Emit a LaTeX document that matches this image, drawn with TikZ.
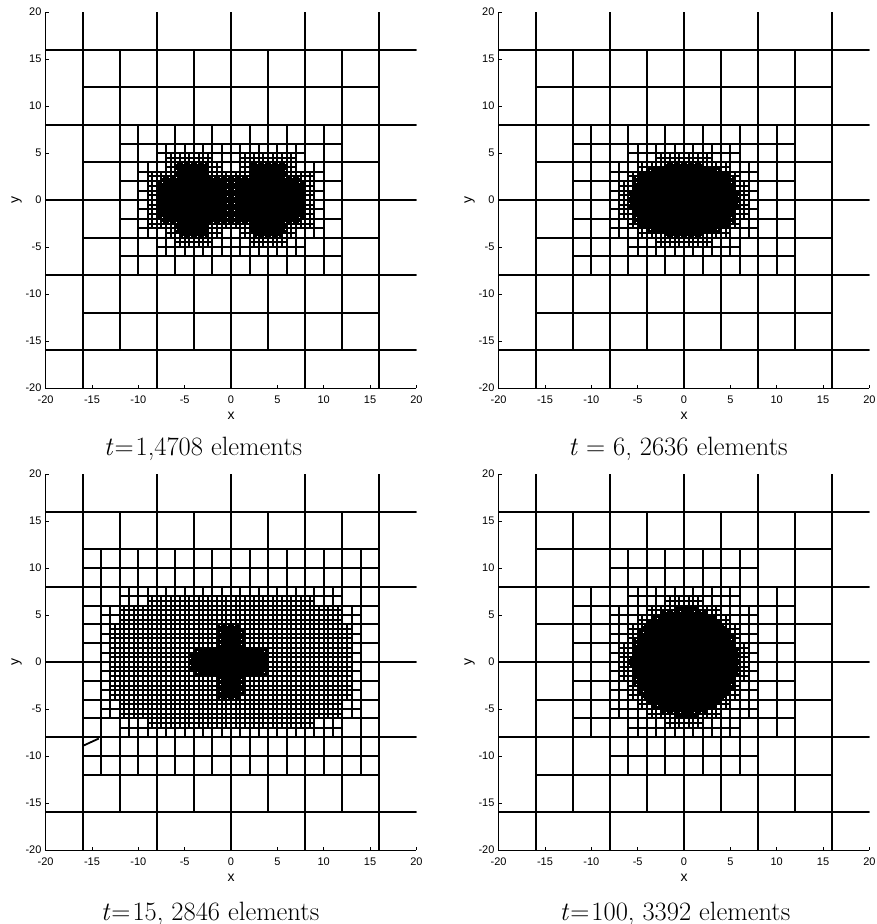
\documentclass[tikz,border=0pt]{standalone}
\usepackage{fontspec}
\newfontfamily\axfont{Liberation Sans}
\newif\ifqref
\newif\ifqinner
\def\qgobble#1{}
\def\qdk{160}\def\qdo{500}
% rectangle snapped to whole points (1pt = 1px)
\def\qrect#1#2#3{%
  \edef\qXa{\the\numexpr 927*(#1)/100000\relax}%
  \edef\qXb{\the\numexpr 927*(#1+#3)/100000\relax}%
  \edef\qYa{\the\numexpr 940*(#2)/100000\relax}%
  \edef\qYb{\the\numexpr 940*(#2+#3)/100000\relax}%
  \pgfpathrectangle{\pgfqpoint{\qXa pt}{\qYa pt}}{\pgfqpoint{\the\numexpr\qXb-\qXa\relax pt}{\the\numexpr\qYb-\qYa\relax pt}}}
\def\qpow#1#2{%
  \edef\qtb{\the\numexpr#1*#1/1000\relax}%
  \ifcase#2\relax\or\edef\qv{#1}\or\edef\qv{\qtb}\or
    \edef\qv{\the\numexpr\qtb*#1/1000\relax}\or
    \edef\qv{\the\numexpr\qtb*\qtb/1000\relax}\or\or\or\or
    \edef\qtd{\the\numexpr\qtb*\qtb/1000\relax}\edef\qv{\the\numexpr\qtd*\qtd/1000\relax}%
  \fi}
% primitive: xc yc a b p s (milli-units)
\def\prim#1#2#3#4#5#6{%
  \ifqref\else
  \ifnum\qh>#6\relax
    \edef\qA{\the\numexpr#3+\qd\relax}%
    \edef\qB{\the\numexpr#4+\qd\relax}%
    \edef\qdx{\the\numexpr\qcx-(#1)\relax}%
    \ifnum\qdx<0 \edef\qdx{\expandafter\qgobble\qdx}\fi
    \edef\qdy{\the\numexpr\qcy-(#2)\relax}%
    \ifnum\qdy<0 \edef\qdy{\expandafter\qgobble\qdy}\fi
    \ifnum\qdx<\qA\relax\ifnum\qdy<\qB\relax
      \edef\qtx{\the\numexpr\qdx*1000/\qA\relax}%
      \edef\qty{\the\numexpr\qdy*1000/\qB\relax}%
      \qpow\qtx{#5}\let\qpx\qv
      \qpow\qty{#5}%
      \ifnum\numexpr\qpx+\qv\relax<1000 \qreftrue\fi
    \fi\fi
  \fi\fi}
\def\qcell#1#2#3{%
 \begingroup
  \edef\qx{#1}\edef\qy{#2}\edef\qh{#3}%
  \edef\qcx{\the\numexpr\qx+\qh/2\relax}%
  \edef\qcy{\the\numexpr\qy+\qh/2\relax}%
  \edef\qd{\the\numexpr\qdk*\qh/100-\qdo\relax}%
  \qreffalse
  \qprims
  \ifqref
    \ifnum\qh>250
      \edef\qhh{\the\numexpr\qh/2\relax}%
      \edef\qxm{\the\numexpr\qx+\qhh\relax}%
      \edef\qym{\the\numexpr\qy+\qhh\relax}%
      \edef\qnext{\noexpand\qcell{\qx}{\qy}{\qhh}\noexpand\qcell{\qxm}{\qy}{\qhh}\noexpand\qcell{\qx}{\qym}{\qhh}\noexpand\qcell{\qxm}{\qym}{\qhh}}%
      \qnext
    \else
      \qrect\qx\qy\qh\pgfusepath{fill,stroke}%
    \fi
  \else
    \qrect\qx\qy\qh\pgfusepath{stroke}%
  \fi
 \endgroup}
\tikzset{
  meshline/.style={line width=1.8pt,black},
  axline/.style={line width=0.8pt,black},
  ticklab/.style={inner sep=0pt,font=\axfont\fontsize{11}{13}\selectfont},
  axlab/.style={inner sep=0pt,font=\axfont\fontsize{14}{16}\selectfont},
  caplab/.style={inner sep=0pt,anchor=base,font=\fontsize{26.5}{31}\selectfont}
}
\newcommand\qpanel[5]{%
 \begin{scope}[shift={(#1pt,-#2pt)},x=9.27pt,y=9.4pt]
  \begin{scope}
   \clip (-20,-20) rectangle (20,20);
   \def\qprims{#3}%
   \foreach \i in {-24000,-16000,-8000,0,8000,16000}{%
     \foreach \j in {-24000,-16000,-8000,0,8000,16000}{%
       \qinnerfalse
       \ifnum\i>-20000 \ifnum\i<12000 \ifnum\j>-20000 \ifnum\j<12000 \qinnertrue\fi\fi\fi\fi
       \ifqinner\else\pgfsetlinewidth{2pt}\qrect\i\j{8000}\pgfusepath{stroke}\fi}}
   \foreach \i in {-16000,-12000,-8000,-4000,0,4000,8000,12000}{%
     \foreach \j in {-16000,-12000,-8000,-4000,0,4000,8000,12000}{\pgfsetlinewidth{2pt}\qcell{\i}{\j}{4000}}}
   #4
  \end{scope}
  \draw[axline] (-20,20) -- (-20,-20) -- (20,-20);
  \foreach \v in {-20,-15,...,20}{%
    \draw[axline] (\v,-20) -- ++(0,0.35);
    \draw[axline] (-20,\v) -- ++(0.35,0);
    \node[ticklab,anchor=north] (xt#5\v) at ([yshift=-8pt]\v,-20) {\v};
    \node[ticklab,anchor=east] (yt#5\v) at ([xshift=-4pt]-20,\v) {\v};
  }
  \node[axlab] (xl#5) at ([yshift=-28pt]0,-20) {x};
  \node[axlab,rotate=90] (yl#5) at ([xshift=-29pt]-20,0) {y};
 \end{scope}}
\begin{document}
\begin{tikzpicture}
\fill[white] (0pt,0pt) rectangle (877pt,-924pt);
\useasboundingbox (0pt,0pt) rectangle (877pt,-924pt);
% t = 1
\qpanel{231}{200}{%
  \prim{-4050}{0}{3750}{2400}{4}{0}\prim{-4150}{2400}{1600}{1500}{4}{0}\prim{-4150}{-2300}{1600}{1400}{4}{0}%
  \prim{4100}{0}{3750}{2400}{4}{0}\prim{4000}{2400}{1800}{1500}{4}{0}\prim{4000}{-2300}{1700}{1400}{4}{0}%
  \prim{0}{0}{600}{2300}{8}{250}}{}{a}
% t = 6
\qpanel{684}{200}{\prim{0}{0}{5500}{3500}{3}{0}}{}{b}
% t = 15
\qpanel{231}{662}{%
  \prim{0}{0}{11900}{5900}{4}{500}%
  \prim{-100}{0}{1100}{3600}{8}{0}\prim{-100}{0}{3900}{1300}{8}{0}}%
  {\draw[meshline] (-16,-8.93) -- (-14.26,-8.14);}{c}
% t = 100
\def\qdk{194}\def\qdo{690}
\qpanel{684}{662}{\prim{100}{0}{5600}{5600}{2}{0}}{}{d}
\node[caplab] (capa) at (203pt,-455pt) {\textit{t}\kern1pt=\kern2pt1,4708 elements};
\node[caplab] (capb) at (678pt,-455pt) {\textit{t} = 6, 2636 elements};
\node[caplab] (capc) at (210pt,-920pt) {\textit{t}\kern1pt=\kern2pt15, 2846 elements};
\node[caplab] (capd) at (675pt,-920pt) {\textit{t}\kern1pt=\kern2pt100, 3392 elements};
\end{tikzpicture}
\end{document}
